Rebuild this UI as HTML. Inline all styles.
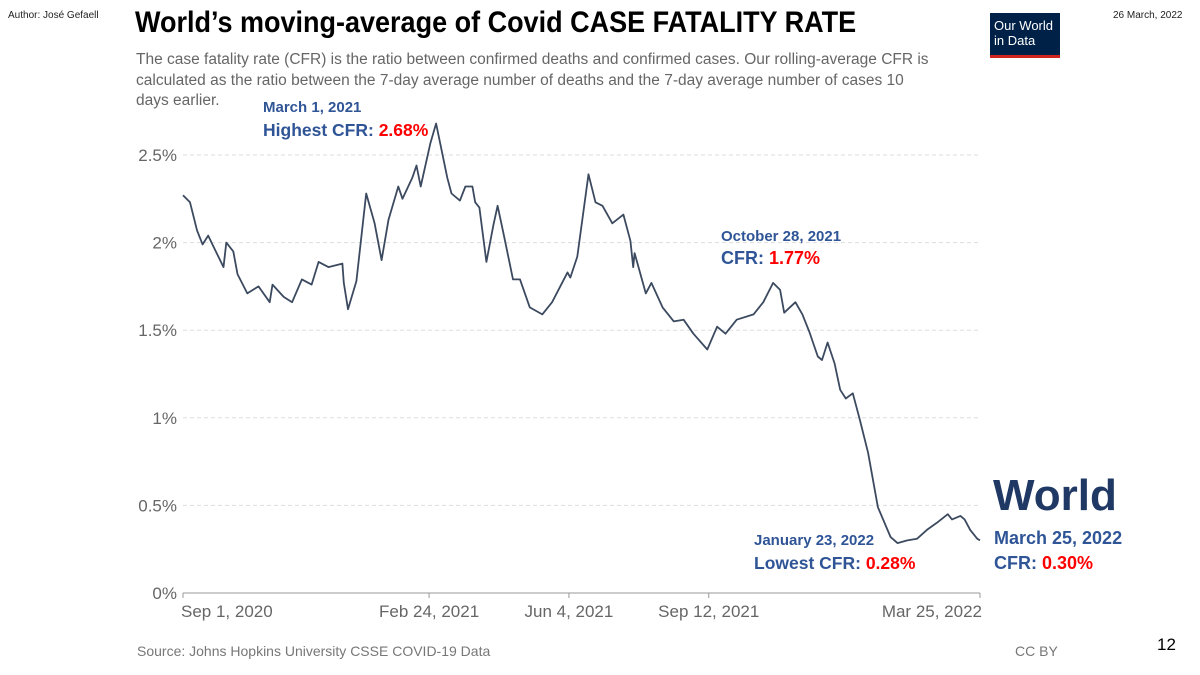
<!DOCTYPE html>
<html><head><meta charset="utf-8"><style>
body{margin:0;width:1200px;height:675px;background:#fff;overflow:hidden;font-family:"Liberation Sans",sans-serif;position:relative}
.a{position:absolute;white-space:nowrap}
.ann{font-weight:bold;color:#2F5597}
.red{color:#f00}
</style></head><body>
<div class="a" style="left:8px;top:10px;font-size:10px;color:#222">Author: José Gefaell</div>
<div class="a" style="left:135px;top:6px;font-size:30px;font-weight:bold;color:#000;transform:scaleX(0.9);transform-origin:left top">World’s moving-average of Covid CASE FATALITY RATE</div>
<div class="a" style="left:1113px;top:10px;font-size:10px;color:#222">26 March, 2022</div>
<div class="a" style="left:990px;top:13px;width:70px;height:45px;background:#002147;border-bottom:3px solid #ce261e;box-sizing:border-box;color:#fff;font-size:13px;line-height:15px;padding:5px 0 0 4px">Our World<br>in Data</div>
<div class="a" style="left:136px;top:50px;font-size:15.5px;line-height:20.5px;color:#666;white-space:normal;width:800px">The case fatality rate (CFR) is the ratio between confirmed deaths and confirmed cases. Our rolling-average CFR is calculated as the ratio between the 7-day average number of deaths and the 7-day average number of cases 10 days earlier.</div>
<svg id="chart" width="1200" height="675" style="position:absolute;left:0;top:0"></svg>
<div class="a ann" style="left:263px;top:99px;font-size:15px">March 1, 2021</div>
<div class="a ann" style="left:263px;top:120px;font-size:17.5px">Highest CFR: <span class="red">2.68%</span></div>
<div class="a ann" style="left:721px;top:228px;font-size:15px">October 28, 2021</div>
<div class="a ann" style="left:721px;top:248px;font-size:18px">CFR: <span class="red">1.77%</span></div>
<div class="a ann" style="left:754px;top:532px;font-size:15px">January 23, 2022</div>
<div class="a ann" style="left:754px;top:553px;font-size:17.5px">Lowest CFR: <span class="red">0.28%</span></div>
<div class="a" style="left:993px;top:471px;font-size:44px;font-weight:bold;color:#1F3864">World</div>
<div class="a ann" style="left:994px;top:528px;font-size:18px">March 25, 2022</div>
<div class="a ann" style="left:994px;top:553px;font-size:18px">CFR: <span class="red">0.30%</span></div>
<div class="a" style="left:137px;top:643px;font-size:14px;color:#777">Source: Johns Hopkins University CSSE COVID-19 Data</div>
<div class="a" style="left:1015px;top:643px;font-size:14px;color:#777">CC BY</div>
<div class="a" style="left:1157px;top:635px;font-size:17px;color:#000">12</div>
<script>
const days=[0,5,10,14,18,21,29,31,36,39,46,54,62,64,72,78,85,92,97,104,114,115,118,124,131,137,142,147,154,157,164,167,170,177,181,189,192,198,202,207,209,212,217,222,225,229,236,241,248,257,264,275,277,282,290,295,300,307,315,320,322,323,331,335,343,351,358,365,375,382,388,396,408,415,422,427,430,438,443,448,454,457,461,466,470,474,479,484,490,497,506,511,518,525,532,539,547,550,556,559,563,568,570];
const cfr=[2.27,2.23,2.07,1.99,2.04,1.99,1.86,2.00,1.95,1.82,1.71,1.75,1.66,1.76,1.69,1.66,1.79,1.76,1.89,1.86,1.88,1.77,1.62,1.78,2.28,2.11,1.90,2.13,2.32,2.25,2.37,2.44,2.32,2.57,2.68,2.37,2.28,2.24,2.32,2.32,2.23,2.20,1.89,2.10,2.21,2.06,1.79,1.79,1.63,1.59,1.66,1.83,1.80,1.92,2.39,2.23,2.21,2.11,2.16,2.01,1.86,1.94,1.71,1.77,1.63,1.55,1.56,1.48,1.39,1.52,1.48,1.56,1.59,1.66,1.77,1.73,1.60,1.66,1.59,1.49,1.35,1.33,1.43,1.31,1.16,1.11,1.14,0.99,0.80,0.49,0.32,0.285,0.30,0.31,0.36,0.40,0.45,0.42,0.44,0.42,0.36,0.31,0.30];
const yTicks=[0,0.5,1,1.5,2,2.5];
const yLabels=["0%","0.5%","1%","1.5%","2%","2.5%"];
const xTicks=[0,176,276,376,570];
const xLabels=["Sep 1, 2020","Feb 24, 2021","Jun 4, 2021","Sep 12, 2021","Mar 25, 2022"];
const svg=document.getElementById('chart');const NS='http://www.w3.org/2000/svg';
const X=d=>183+d*(797/570), Y=v=>593-v*175.2;
function mk(t,a){const e=document.createElementNS(NS,t);for(const k in a)e.setAttribute(k,a[k]);svg.appendChild(e);return e;}
yTicks.forEach((v,i)=>{
 if(v>0){const g=mk('line',{x1:183,x2:980,y1:Y(v),y2:Y(v),stroke:'#ddd','stroke-dasharray':'4,3'});
 
 }
 const t=mk('text',{x:177,y:Y(v)+6,'text-anchor':'end','font-size':17,fill:'#666','font-family':'Liberation Sans'});t.textContent=yLabels[i];
 
 
});
const ax=mk('line',{x1:183,x2:980,y1:593,y2:593,stroke:'#999'});


xTicks.forEach((d,i)=>{
 const tk=mk('line',{x1:X(d),x2:X(d),y1:593,y2:598,stroke:'#999'});
 
 
 const t=mk('text',{x:X(d),y:617,'text-anchor':i==0?'start':i==xTicks.length-1?'end':'middle','font-size':17,fill:'#666','font-family':'Liberation Sans'});
 if(i==0)t.setAttribute('x',X(d)-2);
 if(i==xTicks.length-1)t.setAttribute('x',X(d)+2);
 t.textContent=xLabels[i];
 
 
});
const p=mk('path',{d:days.map((d,i)=>(i?'L':'M')+X(d).toFixed(1)+','+Y(cfr[i]).toFixed(1)).join(''),fill:'none',stroke:'#3c4a60','stroke-width':1.8,'stroke-linejoin':'round'});


</script>
</body></html>
